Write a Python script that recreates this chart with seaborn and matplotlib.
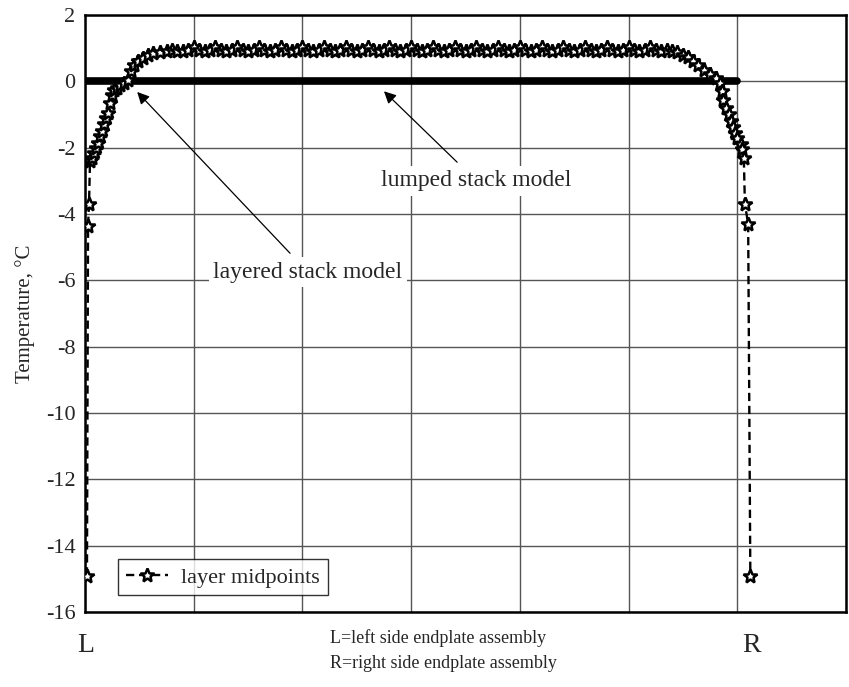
import matplotlib
matplotlib.use("Agg")
import matplotlib.pyplot as plt
import seaborn as sns
import pandas as pd

# ---- data (x in endplate-to-endplate units, y in degC) ----
rise_x = [0.018, 0.028, 0.037, 0.046, 0.064, 0.083, 0.10, 0.12, 0.14, 0.16,
          0.175, 0.19, 0.21, 0.23, 0.25, 0.27, 0.29, 0.32, 0.36, 0.40,
          0.42, 0.45, 0.49, 0.53, 0.58, 0.63, 0.69, 0.75, 0.80, 0.85]
rise_y = [-14.9, -4.35, -3.7, -2.4, -2.3, -2.15, -2.0, -1.85, -1.65, -1.5,
          -1.3, -1.1, -0.95, -0.65, -0.4, -0.27, -0.2, -0.12, -0.05, 0.05,
          0.3, 0.5, 0.62, 0.7, 0.78, 0.85, 0.88, 0.92, 0.95, 0.92]
plateau_x = [0.90, 0.95, 1.00, 1.05, 1.10, 1.15, 1.20, 1.25, 1.30, 1.35,
             1.40, 1.45, 1.50, 1.55, 1.60, 1.65, 1.70, 1.75, 1.80, 1.85,
             1.90, 1.95, 2.00, 2.05, 2.10, 2.15, 2.20, 2.25, 2.30, 2.35,
             2.40, 2.45, 2.50, 2.55, 2.60, 2.65, 2.70, 2.75, 2.80, 2.85,
             2.90, 2.95, 3.00, 3.05, 3.10, 3.15, 3.20, 3.25, 3.30, 3.35,
             3.40, 3.45, 3.50, 3.55, 3.60, 3.65, 3.70, 3.75, 3.80, 3.85,
             3.90, 3.95, 4.00, 4.05, 4.10, 4.15, 4.20, 4.25, 4.30, 4.35,
             4.40, 4.45, 4.50, 4.55, 4.60, 4.65, 4.70, 4.75, 4.80, 4.85,
             4.90, 4.95, 5.00, 5.05, 5.10, 5.15, 5.20, 5.25]
plateau_y = [0.90, 0.94, 1.05, 0.94, 0.90, 0.94, 1.05, 0.94,
             0.90, 0.94, 1.05, 0.94, 0.90, 0.94, 1.05, 0.94,
             0.90, 0.94, 1.05, 0.94, 0.90, 0.94, 1.05, 0.94,
             0.90, 0.94, 1.05, 0.94, 0.90, 0.94, 1.05, 0.94,
             0.90, 0.94, 1.05, 0.94, 0.90, 0.94, 1.05, 0.94,
             0.90, 0.94, 1.05, 0.94, 0.90, 0.94, 1.05, 0.94,
             0.90, 0.94, 1.05, 0.94, 0.90, 0.94, 1.05, 0.94,
             0.90, 0.94, 1.05, 0.94, 0.90, 0.94, 1.05, 0.94,
             0.90, 0.94, 1.05, 0.94, 0.90, 0.94, 1.05, 0.94,
             0.90, 0.94, 1.05, 0.94, 0.90, 0.94, 1.05, 0.94,
             0.90, 0.94, 1.05, 0.94, 0.90, 0.94, 1.03, 0.93]
fall_x = [5.30, 5.35, 5.40, 5.45, 5.50, 5.55, 5.59, 5.64, 5.69, 5.75,
          5.80, 5.84, 5.86, 5.87, 5.90, 5.92, 5.94, 5.96, 5.98, 6.00,
          6.03, 6.04, 6.06, 6.07, 6.10, 6.12]
fall_y = [0.92, 0.95, 0.90, 0.88, 0.80, 0.72, 0.62, 0.48, 0.35, 0.22,
          0.10, -0.06, -0.3, -0.57, -0.8, -0.97, -1.2, -1.38, -1.55, -1.7,
          -1.9, -2.05, -2.3, -3.7, -4.3, -14.9]
lumped_x = [0.0, 6.0]
lumped_y = [0.0, 0.0]

y_ticks = [2, 0, -2, -4, -6, -8, -10, -12, -14, -16]
x_grid = [0, 1, 2, 3, 4, 5, 6, 7]

layer_df = pd.DataFrame({"x": rise_x + plateau_x + fall_x,
                         "y": rise_y + plateau_y + fall_y})
lumped_df = pd.DataFrame({"x": lumped_x, "y": lumped_y})

sns.set_style("white")
plt.rcParams["font.family"] = ["Liberation Serif", "DejaVu Serif"]

fig = plt.figure(figsize=(8.49, 6.87), dpi=100)
W, H = 849, 687
left, right, top, bottom = 85, 846, 15, 612
ax = fig.add_axes([left / W, 1 - bottom / H, (right - left) / W, (bottom - top) / H])

sns.lineplot(data=lumped_df, x="x", y="y", ax=ax, color="black", lw=5.5,
             sort=False, estimator=None, zorder=3)
sns.lineplot(data=layer_df, x="x", y="y", ax=ax, color="black", lw=1.7,
             sort=False, estimator=None, zorder=4, label="layer midpoints",
             linestyle=(0, (3.5, 2)), marker="*", markersize=10.5,
             markerfacecolor="white", markeredgecolor="black", markeredgewidth=1.8)

ax.set_xlim(0, 7)
ax.set_ylim(-16, 2)
ax.set_yticks(y_ticks)
ax.set_yticklabels([str(t) for t in y_ticks], fontsize=16)
ax.set_xticks(x_grid)
ax.set_xticklabels([])
ax.tick_params(axis="y", direction="out", length=5, width=1, color="#555555", pad=2)
ax.tick_params(axis="x", length=0)
ax.grid(True, color="#555555", lw=1)
ax.set_axisbelow(True)
for s in ax.spines.values():
    s.set_color("black")
    s.set_linewidth(1.8)

ax.set_xlabel("")
ax.set_ylabel("Temperature, °C", fontsize=15, labelpad=8)

leg = ax.legend(loc="lower left", bbox_to_anchor=(0.043, 0.028), fontsize=16,
                frameon=True, fancybox=False, edgecolor="black", borderaxespad=0,
                handlelength=1.9, borderpad=0.35, handletextpad=0.6)
leg.get_frame().set_linewidth(1.0)

bbox = dict(facecolor="white", edgecolor="none", pad=3)
ax.annotate("lumped stack model", xy=(2.75, -0.3), xytext=(3.6, -3.0),
            fontsize=17, ha="center", va="center", bbox=bbox,
            arrowprops=dict(arrowstyle="-|>", color="black", lw=0.9,
                            mutation_scale=18, shrinkB=0, shrinkA=4),
            zorder=6)
ax.annotate("layered stack model", xy=(0.48, -0.32), xytext=(2.05, -5.75),
            fontsize=17, ha="center", va="center", bbox=bbox,
            arrowprops=dict(arrowstyle="-|>", color="black", lw=0.9,
                            mutation_scale=18, shrinkB=0, shrinkA=4),
            zorder=6)

fig.text(86 / W, 1 - 646 / H, "L", fontsize=20, ha="center", va="center")
fig.text(752 / W, 1 - 646 / H, "R", fontsize=20, ha="center", va="center")
fig.text(330 / W, 1 - 638 / H, "L=left side endplate assembly", fontsize=13,
         ha="left", va="center")
fig.text(330 / W, 1 - 664 / H, "R=right side endplate assembly", fontsize=13,
         ha="left", va="center")

fig.savefig("out.png", dpi=100)
